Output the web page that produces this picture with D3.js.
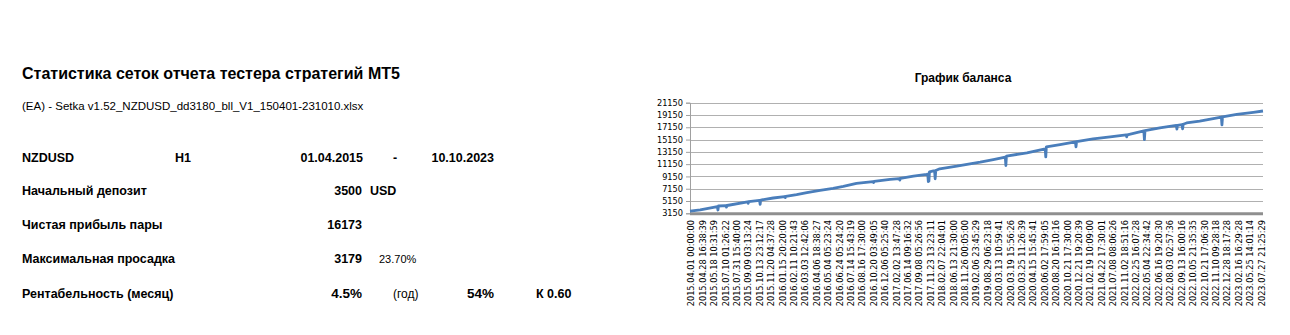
<!DOCTYPE html>
<html>
<head>
<meta charset="utf-8">
<script src="https://cdn.jsdelivr.net/npm/d3@7"></script>
<style>
  html, body { margin: 0; padding: 0; background: #fff; }
  svg { display: block; }
</style>
</head>
<body>
<svg id="chart" width="1290" height="335"></svg>
<script>
// ---------- DATA ----------
const reportTitle = "Статистика сеток отчета тестера стратегий MT5";
const reportFile = "(EA) - Setka v1.52_NZDUSD_dd3180_bll_V1_150401-231010.xlsx";
const symbolRow = ["NZDUSD", "H1", "01.04.2015", "-", "10.10.2023"];
const statLabels = ["Начальный депозит", "Чистая прибыль пары", "Максимальная просадка", "Рентабельность (месяц)"];
const statValues = ["3500", "16173", "3179", "4.5%"];
const depositUnit = "USD";
const drawdownPct = "23.70%";
const yearLabel = "(год)";
const yearValue = "54%";
const kValue = "К 0.60";

const chartTitle = "График баланса";
const yTicks = [3150, 5150, 7150, 9150, 11150, 13150, 15150, 17150, 19150, 21150];
const xTickLabels = [
  "2015.04.01 00:00:00","2015.04.28 16:38:39","2015.05.18 10:31:59","2015.07.10 01:26:22",
  "2015.07.31 15:40:00","2015.09.09 03:13:24","2015.10.13 23:12:17","2015.11.20 04:37:28",
  "2016.01.15 20:20:00","2016.02.11 10:21:43","2016.03.03 12:42:06","2016.04.06 18:38:27",
  "2016.05.04 05:23:24","2016.06.24 05:24:20","2016.07.14 15:43:19","2016.08.16 17:30:00",
  "2016.10.20 03:49:05","2016.12.06 05:25:40","2017.02.02 13:47:28","2017.06.14 09:16:32",
  "2017.09.08 05:26:56","2017.11.23 13:23:11","2018.02.07 22:04:01","2018.06.13 21:30:00",
  "2018.11.26 00:05:00","2019.02.06 23:45:29","2019.08.29 06:23:18","2020.03.13 10:59:41",
  "2020.03.19 15:56:26","2020.03.25 11:26:39","2020.04.15 15:45:41","2020.06.02 17:59:05",
  "2020.08.20 16:10:16","2020.10.21 17:30:00","2020.12.21 19:20:39","2021.02.19 10:09:00",
  "2021.04.22 17:30:01","2021.07.08 08:06:26","2021.11.02 18:51:16","2022.02.25 16:07:28",
  "2022.05.04 22:34:42","2022.06.16 19:20:30","2022.08.03 02:57:36","2022.09.13 16:00:16",
  "2022.10.05 21:35:35","2022.10.21 17:06:30","2022.11.10 09:28:18","2022.12.28 18:17:28",
  "2023.02.16 16:29:28","2023.05.25 14:01:14","2023.07.27 21:25:29"
];
const labelEvery = 20;      // deals between consecutive axis labels
const lastDeal = 1005;      // index of last deal on the axis

// balance series: deal index and balance
const dealIdx = [0, 18, 48, 49, 50, 63, 64, 65, 101, 102, 103, 122, 123, 124, 146,
  166, 167, 168, 187, 205, 228, 251, 269, 292, 321, 322, 323, 351, 367, 368, 369,
  392, 415, 417, 418, 419, 420, 427, 429, 430, 431, 438, 468, 491, 509, 532,
  553, 554, 555, 591, 623, 624, 625, 649, 676, 677, 678, 707, 737, 765, 766, 767,
  796, 797, 798, 824, 853, 854, 855, 863, 864, 865, 871, 894, 932, 933, 934,
  959, 988, 1005];
const balance = [3500, 3690, 4250, 3690, 4340, 4400, 4150, 4420, 5000, 4770, 5040, 5250, 4610, 5310, 5640,
  5880, 5700, 5900, 6180, 6500, 6880, 7200, 7530, 8010, 8320, 8150, 8340, 8660, 8800, 8550, 8820,
  9200, 9470, 9520, 8300, 8400, 9900, 10050, 10050, 8770, 10100, 10390, 10820, 11200, 11470, 11900,
  12300, 10930, 12450, 12990, 13640, 12340, 13960, 14340, 14770, 13960, 14800, 15260, 15580, 15900, 15580, 15920,
  16550, 15150, 16600, 17040, 17450, 16850, 17470, 17600, 16900, 17650, 17850, 18170, 18820, 17530, 18850,
  19260, 19580, 19800];

// ---------- DRAW ----------
const svg = d3.select("#chart");
const sans = "'Liberation Sans', Arial, sans-serif";
const tah = "'DejaVu Sans', Verdana, sans-serif";

// left statistics block
const left = svg.append("g").attr("font-family", sans).attr("fill", "#000");
left.append("text").attr("x", 22).attr("y", 79).attr("font-size", 16).attr("font-weight", "bold").text(reportTitle);
left.append("text").attr("x", 22).attr("y", 110).attr("font-size", 11.5).text(reportFile);

const rowY = [161.5, 194.5, 228.5, 262.5, 297.5];
const b = left.append("g").attr("font-weight", "bold").attr("font-size", 12.5);
b.append("text").attr("x", 22).attr("y", rowY[0]).text(symbolRow[0]);
b.append("text").attr("x", 175).attr("y", rowY[0]).text(symbolRow[1]);
b.append("text").attr("x", 363).attr("y", rowY[0]).attr("text-anchor", "end").text(symbolRow[2]);
b.append("text").attr("x", 395).attr("y", rowY[0]).attr("text-anchor", "middle").text(symbolRow[3]);
b.append("text").attr("x", 494).attr("y", rowY[0]).attr("text-anchor", "end").text(symbolRow[4]);

statLabels.forEach((l, i) => {
  b.append("text").attr("x", 22).attr("y", rowY[i + 1]).text(l);
  b.append("text").attr("x", 362).attr("y", rowY[i + 1]).attr("text-anchor", "end")
    .attr("font-size", i === 3 ? 13.5 : 12.5).text(statValues[i]);
});
b.append("text").attr("x", 370).attr("y", rowY[1]).text(depositUnit);
left.append("text").attr("x", 379).attr("y", rowY[3]).attr("font-size", 11).text(drawdownPct);
left.append("text").attr("x", 393).attr("y", rowY[4]).attr("font-size", 12).text(yearLabel);
b.append("text").attr("x", 494).attr("y", rowY[4]).attr("text-anchor", "end").attr("font-size", 13.5).text(yearValue);
b.append("text").attr("x", 536).attr("y", rowY[4]).text(kValue);

// balance chart
const plot = { left: 690, right: 1263, top: 102.7, bottom: 213.3 };
const x = d3.scaleLinear().domain([0, lastDeal]).range([plot.left, plot.right]);
const y = d3.scaleLinear().domain([yTicks[0], yTicks[yTicks.length - 1]]).range([plot.bottom, plot.top]);

svg.append("text").attr("x", 963).attr("y", 82).attr("text-anchor", "middle")
  .attr("font-family", sans).attr("font-weight", "bold").attr("font-size", 12).text(chartTitle);

// gridlines
svg.append("g").selectAll("line").data(yTicks.slice(1)).join("line")
  .attr("x1", plot.left).attr("x2", plot.right)
  .attr("y1", d => Math.round(y(d)) + 0.5).attr("y2", d => Math.round(y(d)) + 0.5)
  .attr("stroke", "#b0b0b0").attr("stroke-width", 1);

// y axis
const yAxis = d3.axisLeft(y).tickValues(yTicks).tickSize(4).tickPadding(3).tickFormat(d3.format("d"));
const yg = svg.append("g").attr("transform", `translate(${plot.left},0)`).call(yAxis);
yg.select(".domain").attr("stroke", "#a0a0a0");
yg.selectAll(".tick line").attr("stroke", "#a0a0a0");
yg.selectAll(".tick text").attr("font-family", tah).attr("font-size", 8.2).attr("fill", "#000");

// x axis (bottom band + labels)
const xLabelIdx = xTickLabels.map((_, i) => i * labelEvery);
svg.append("line").attr("x1", plot.left).attr("x2", plot.right)
  .attr("y1", y(yTicks[0]) + 0.5).attr("y2", y(yTicks[0]) + 0.5)
  .attr("stroke", "#8f8f8f").attr("stroke-width", 3);

svg.append("g").selectAll("text").data(xTickLabels).join("text")
  .attr("transform", (d, i) => `translate(${x(xLabelIdx[i]) + 1.5},220) rotate(-90)`)
  .attr("text-anchor", "end").attr("dy", "0.35em")
  .attr("font-family", tah).attr("font-size", 8.2).attr("fill", "#000")
  .text(d => d);

// balance line
const pts = dealIdx.map((d, i) => [d, balance[i]]);
svg.append("path").datum(pts)
  .attr("fill", "none").attr("stroke", "#4a7ebb").attr("stroke-width", 2.8)
  .attr("stroke-linejoin", "round")
  .attr("d", d3.line().x(d => x(d[0])).y(d => y(d[1])));
</script>
</body>
</html>
